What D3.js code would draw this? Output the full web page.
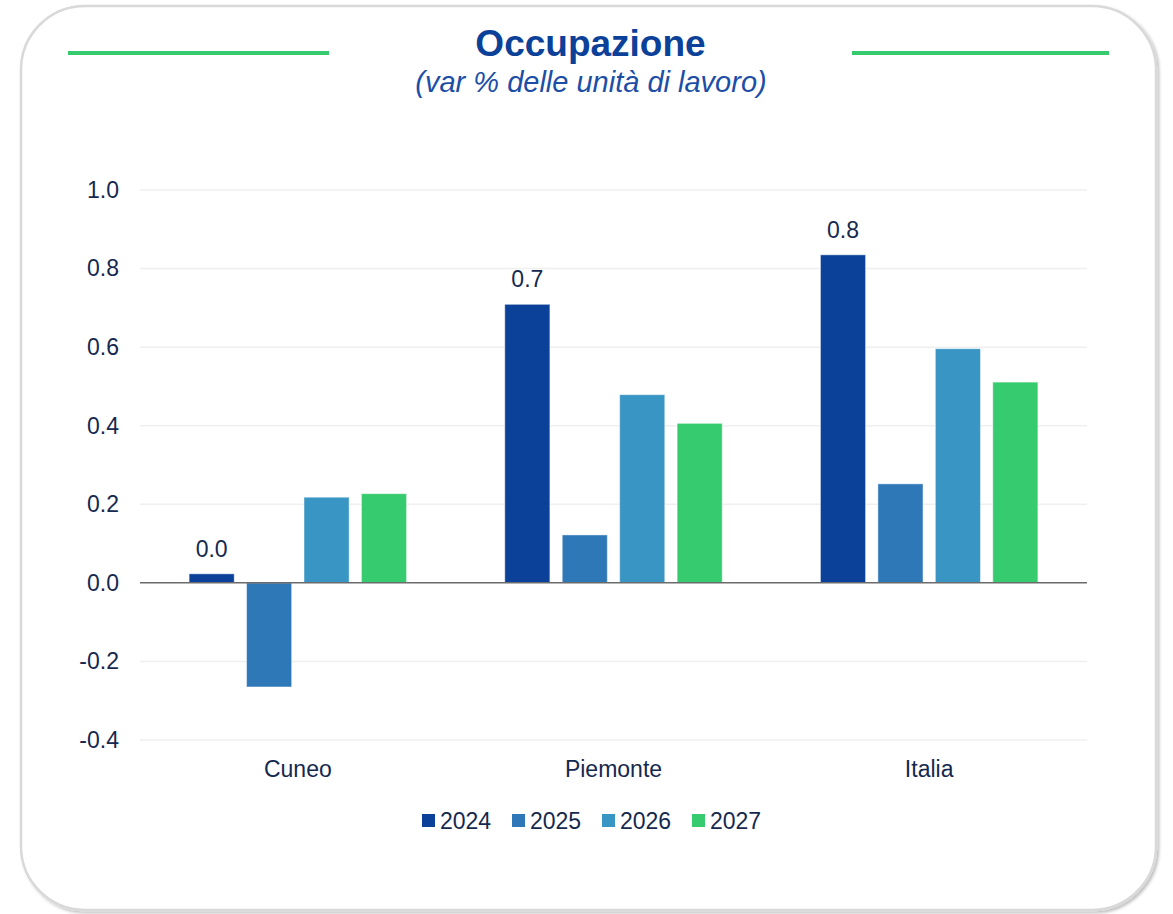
<!DOCTYPE html>
<html>
<head>
<meta charset="utf-8">
<script src="https://cdn.jsdelivr.net/npm/d3@7"></script>
<style>
  html, body { margin: 0; padding: 0; background: #ffffff; }
  svg { display: block; font-family: Arial, "Liberation Sans", sans-serif; }
</style>
</head>
<body>
<svg id="chart" width="1173" height="914"></svg>
<script>
// ---- data ----
const categories = ["Cuneo", "Piemonte", "Italia"];
const seriesNames = ["2024", "2025", "2026", "2027"];
const values2024 = [0.023, 0.709, 0.835];
const values2025 = [-0.265, 0.122, 0.252];
const values2026 = [0.218, 0.479, 0.596];
const values2027 = [0.227, 0.406, 0.511];
const yTicks = [-0.4, -0.2, 0.0, 0.2, 0.4, 0.6, 0.8, 1.0];
const labelledSeries = ["2024"];
const titleText = "Occupazione";
const subtitleText = "(var % delle unità di lavoro)";

const seriesValues = {"2024": values2024, "2025": values2025, "2026": values2026, "2027": values2027};
const colors = {"2024": "#0b4199", "2025": "#2f78b8", "2026": "#3895c4", "2027": "#37cb6f"};
const textColor = "#15294f";
const fmt = d3.formatLocale({decimal: ".", thousands: ",", grouping: [3], currency: ["", ""], minus: "-"}).format(".1f");

const svg = d3.select("#chart");

// ---- frame ----
const defs = svg.append("defs");
const f = defs.append("filter").attr("id", "sh").attr("x", "-5%").attr("y", "-5%").attr("width", "110%").attr("height", "110%");
f.append("feDropShadow").attr("dx", 2).attr("dy", 2).attr("stdDeviation", 1.6).attr("flood-color", "#000").attr("flood-opacity", 0.25);

svg.append("rect")
  .attr("x", 21).attr("y", 6).attr("width", 1135).attr("height", 904)
  .attr("rx", 64).attr("ry", 64)
  .attr("fill", "#fff").attr("stroke", "#d9d9d9").attr("stroke-width", 2.5)
  .attr("filter", "url(#sh)");

// ---- title ----
svg.append("line").attr("x1", 68).attr("x2", 329).attr("y1", 53).attr("y2", 53)
  .attr("stroke", "#37cb6f").attr("stroke-width", 4);
svg.append("line").attr("x1", 852).attr("x2", 1109).attr("y1", 53).attr("y2", 53)
  .attr("stroke", "#37cb6f").attr("stroke-width", 4);
svg.append("text").attr("x", 590.5).attr("y", 56).attr("text-anchor", "middle")
  .attr("font-size", 37).attr("font-weight", "bold").attr("fill", "#0b4199").text(titleText);
svg.append("text").attr("x", 591).attr("y", 92).attr("text-anchor", "middle")
  .attr("font-size", 29).attr("font-style", "italic").attr("fill", "#1c4ea6").text(subtitleText);

// ---- scales ----
const plotLeft = 140, plotRight = 1087;
const y = d3.scaleLinear().domain([-0.4, 1.0]).range([740, 190]);
const x0 = d3.scaleBand().domain(categories).range([plotLeft, plotRight]).padding(0);
const x1 = d3.scaleBand().domain(seriesNames).range([0, x0.bandwidth()])
  .paddingInner(0.215).paddingOuter(0.855);

// ---- gridlines ----
svg.append("g").selectAll("line")
  .data(yTicks.filter(t => t !== 0))
  .join("line")
  .attr("x1", plotLeft).attr("x2", plotRight)
  .attr("y1", d => y(d)).attr("y2", d => y(d))
  .attr("stroke", "#efefef").attr("stroke-width", 1.5);

// ---- y axis ----
const yAxis = svg.append("g").attr("transform", `translate(${plotLeft},0)`)
  .call(d3.axisLeft(y).tickValues(yTicks).tickFormat(fmt).tickSize(0).tickPadding(21));
yAxis.select(".domain").remove();
yAxis.selectAll("text").attr("font-size", 23).attr("fill", textColor)
  .attr("font-family", "Arial, 'Liberation Sans', sans-serif");

// ---- bars ----
const rows = categories.map((c, i) => ({cat: c, vals: seriesNames.map(s => ({s, v: seriesValues[s][i]}))}));
const groups = svg.append("g").selectAll("g")
  .data(rows).join("g")
  .attr("transform", d => `translate(${x0(d.cat)},0)`);

groups.selectAll("rect")
  .data(d => d.vals).join("rect")
  .attr("x", d => x1(d.s))
  .attr("width", x1.bandwidth())
  .attr("y", d => y(Math.max(0, d.v)))
  .attr("height", d => Math.abs(y(d.v) - y(0)))
  .attr("fill", d => colors[d.s])
  .attr("stroke", "rgba(255,255,255,0.45)").attr("stroke-width", 1);

groups.selectAll("text.val")
  .data(d => d.vals.filter(v => labelledSeries.includes(v.s))).join("text")
  .attr("class", "val")
  .attr("x", d => x1(d.s) + x1.bandwidth() / 2)
  .attr("y", d => y(Math.max(0, d.v)) - 17)
  .attr("text-anchor", "middle")
  .attr("font-size", 23).attr("fill", textColor)
  .text(d => fmt(d.v));

// ---- zero line ----
svg.append("line").attr("x1", plotLeft).attr("x2", plotRight)
  .attr("y1", y(0)).attr("y2", y(0))
  .attr("stroke", "#6b6b6b").attr("stroke-width", 1.5);

// ---- category axis ----
const xAxis = svg.append("g").attr("transform", `translate(0,${y(-0.4)})`)
  .call(d3.axisBottom(x0).tickSize(0).tickPadding(21));
xAxis.select(".domain").remove();
xAxis.selectAll("text").attr("font-size", 23).attr("fill", textColor)
  .attr("font-family", "Arial, 'Liberation Sans', sans-serif");

// ---- legend ----
const legend = svg.append("g").selectAll("g")
  .data(seriesNames).join("g")
  .attr("transform", (d, i) => `translate(${422 + i * 90},0)`);
legend.append("rect").attr("x", 0).attr("y", 814).attr("width", 13).attr("height", 13)
  .attr("fill", d => colors[d]);
legend.append("text").attr("x", 18).attr("y", 829)
  .attr("font-size", 23).attr("fill", textColor).text(d => d);
</script>
</body>
</html>
